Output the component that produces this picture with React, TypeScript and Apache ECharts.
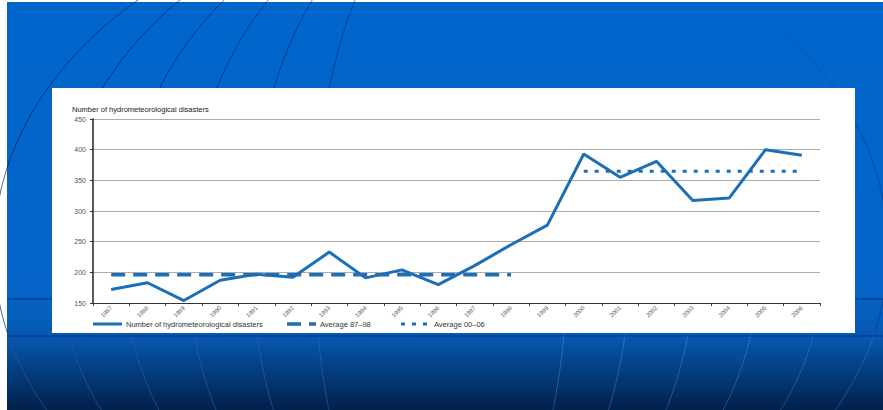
import React, { useEffect, useRef } from "react";
import * as echarts from "echarts";

// Yearly counts of hydrometeorological disasters, 1987–2006
const years = [
  "1987", "1988", "1989", "1990", "1991", "1992", "1993", "1994", "1995", "1996",
  "1997", "1998", "1999", "2000", "2001", "2002", "2003", "2004", "2005", "2006",
];
const disasters = [172, 183, 154, 187, 197, 192, 233, 191, 204, 180, 211, 245, 277, 393, 355, 381, 317, 321, 400, 391];

// Period averages and the year spans they cover
const avg8798 = 196;
const avg8798Span = ["1987", "1998"];
const avg0006 = 365;
const avg0006Span = ["2000", "2006"];

const yTicks = { min: 150, max: 450, interval: 50 };

const seriesNames = [
  "Number of hydrometeorological disasters",
  "Average 87–98",
  "Average 00–06",
];

const BLUE = "#1b6fb6";
const FONT = "'Liberation Sans', Arial, sans-serif";

const lineTypes: (number[] | "solid")[] = ["solid", [14, 8], [4, 7]];
const lineWidths = [3, 3.5, 3];

const spanData = (value: number, span: string[]) =>
  years.map((y) => (y >= span[0] && y <= span[1] ? value : "-"));

// Globe meridians behind the panel
const meridianRx = [127, 190, 255, 320, 385, 447];

export default function App() {
  const ref = useRef<HTMLDivElement>(null);

  useEffect(() => {
    if (!ref.current) return;
    const chart = echarts.init(ref.current, undefined, { renderer: "svg" });

    // dark meridians, visible mostly on the left half
    const darkStroke = new echarts.graphic.LinearGradient(
      0, 0, 883, 0,
      [
        { offset: 0, color: "rgba(0,20,65,0.65)" },
        { offset: 0.4, color: "rgba(0,20,65,0.45)" },
        { offset: 0.5, color: "rgba(0,20,65,0)" },
        { offset: 0.85, color: "rgba(0,20,65,0)" },
        { offset: 1, color: "rgba(0,20,65,0.35)" },
      ],
      true
    );
    // light meridians, only in the lower band
    const lightStroke = new echarts.graphic.LinearGradient(
      0, 0, 0, 410,
      [
        { offset: 0, color: "rgba(110,170,240,0)" },
        { offset: 0.8, color: "rgba(110,170,240,0)" },
        { offset: 0.82, color: "rgba(110,170,240,0.35)" },
        { offset: 1, color: "rgba(110,170,240,0.3)" },
      ],
      true
    );

    const meridians = (stroke: any) =>
      meridianRx.map((rx) => ({
        type: "ellipse",
        z: -90,
        silent: true,
        shape: { cx: 441, cy: 250, rx, ry: 340 },
        style: { fill: "none", stroke, lineWidth: 1 },
      }));

    // legend drawn as line samples with labels
    const legendLeft = [93, 287, 401];
    const legendItems = seriesNames.flatMap((name, i) => [
      {
        type: "line",
        z: 10,
        silent: true,
        shape: { x1: legendLeft[i], y1: 324, x2: legendLeft[i] + 29, y2: 324 },
        style: {
          stroke: BLUE,
          lineWidth: lineWidths[i],
          lineDash: lineTypes[i] === "solid" ? null : lineTypes[i],
        },
      },
      {
        type: "text",
        z: 10,
        silent: true,
        x: legendLeft[i] + 33,
        y: 324,
        style: {
          text: name,
          fontSize: 7.5,
          fontFamily: FONT,
          fill: "#333",
          verticalAlign: "middle",
        },
      },
    ]);

    chart.setOption({
      animation: false,
      textStyle: { fontFamily: FONT },
      graphic: [
        {
          type: "rect",
          z: -100,
          silent: true,
          shape: { x: 7, y: 2, width: 876, height: 408 },
          style: {
            fill: new echarts.graphic.LinearGradient(0, 0, 0, 1, [
              { offset: 0, color: "#0066cc" },
              { offset: 0.72, color: "#0563c6" },
              { offset: 0.82, color: "#0658b2" },
              { offset: 0.9, color: "#043f82" },
              { offset: 1, color: "#02214a" },
            ]),
          },
        },
        ...meridians(darkStroke),
        ...meridians(lightStroke),
        {
          type: "line",
          z: -80,
          silent: true,
          shape: { x1: 7, y1: 299, x2: 883, y2: 299 },
          style: { stroke: "rgba(4,70,150,0.9)", lineWidth: 2 },
        },
        {
          type: "line",
          z: -80,
          silent: true,
          shape: { x1: 7, y1: 336, x2: 883, y2: 336 },
          style: { stroke: "rgba(4,70,150,0.9)", lineWidth: 2 },
        },
        {
          type: "rect",
          z: -50,
          silent: true,
          shape: { x: 52, y: 88, width: 803, height: 245 },
          style: { fill: "#ffffff" },
        },
        ...legendItems,
      ],
      title: {
        text: "Number of hydrometeorological disasters",
        left: 67,
        top: 100,
        textStyle: { fontSize: 7.5, fontWeight: "normal", color: "#222", fontFamily: FONT },
      },
      grid: { left: 93, top: 119, width: 727, height: 184 },
      xAxis: {
        type: "category",
        data: years,
        boundaryGap: true,
        axisLine: { lineStyle: { color: "#333", width: 1 } },
        axisTick: { show: true, interval: 0, length: 3, lineStyle: { color: "#333" } },
        axisLabel: { rotate: 45, fontSize: 6, color: "#555", margin: 4, interval: 0 },
      },
      yAxis: {
        type: "value",
        min: yTicks.min,
        max: yTicks.max,
        interval: yTicks.interval,
        axisLine: { show: true, lineStyle: { color: "#222", width: 1.5 } },
        axisTick: { show: true, length: 3, lineStyle: { color: "#333" } },
        axisLabel: { fontSize: 7, color: "#555", margin: 7 },
        splitLine: { lineStyle: { color: "#aaaaaa", width: 1 } },
      },
      series: [
        {
          name: seriesNames[0],
          type: "line",
          data: disasters,
          symbol: "none",
          lineStyle: { color: BLUE, width: lineWidths[0], type: lineTypes[0] },
          z: 4,
        },
        {
          name: seriesNames[1],
          type: "line",
          data: spanData(avg8798, avg8798Span),
          symbol: "none",
          lineStyle: { color: BLUE, width: lineWidths[1], type: lineTypes[1] },
          z: 3,
        },
        {
          name: seriesNames[2],
          type: "line",
          data: spanData(avg0006, avg0006Span),
          symbol: "none",
          lineStyle: { color: BLUE, width: lineWidths[2], type: lineTypes[2] },
          z: 3,
        },
      ],
    });

    return () => chart.dispose();
  }, []);

  return (
    <div
      ref={ref}
      style={{ position: "absolute", left: 0, top: 0, width: 883, height: 410 }}
    />
  );
}
